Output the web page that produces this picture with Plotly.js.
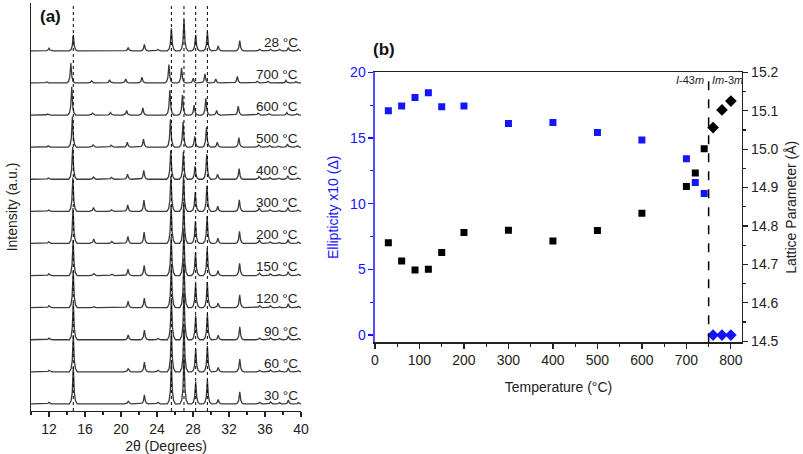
<!DOCTYPE html>
<html>
<head>
<meta charset="utf-8">
<script src="https://cdn.plot.ly/plotly-3.0.1.min.js"></script>
<style>html,body{margin:0;padding:0;background:#fff}</style>
</head>
<body>
<div id="chart" style="width:803px;height:454px"></div>
<script>
// ---------- Panel (a): XRD patterns ----------
const peakPositions = [12.0, 14.7, 17.0, 19.0, 20.8, 22.6, 24.1, 25.6, 27.0, 28.3, 29.6, 30.8, 33.2, 35.4, 36.6, 37.6, 38.6, 39.7];
// top to bottom
const patternLabels = ['28 °C', '700 °C', '600 °C', '500 °C', '400 °C', '300 °C', '200 °C', '150 °C', '120 °C', '90 °C', '60 °C', '30 °C'];
const peakShift = [0, -0.27, -0.17, -0.1, -0.07, -0.05, -0.03, -0.02, -0.01, 0, 0, 0];
const h28  = [0.08, 0.50, 0.00, 0.00, 0.10, 0.20, 0.04, 0.70, 0.97, 0.50, 0.60, 0.15, 0.32, 0.05, 0.05, 0.05, 0.10, 0.05];
const h700 = [0.03, 0.62, 0.06, 0.10, 0.12, 0.18, 0.00, 0.57, 0.47, 0.15, 0.28, 0.12, 0.20, 0.05, 0.05, 0.02, 0.08, 0.04];
const h600 = [0.03, 0.88, 0.06, 0.08, 0.14, 0.22, 0.00, 0.78, 0.62, 0.31, 0.52, 0.14, 0.28, 0.06, 0.04, 0.02, 0.08, 0.04];
const h500 = [0.04, 0.95, 0.07, 0.06, 0.15, 0.25, 0.00, 0.87, 0.78, 0.34, 0.62, 0.15, 0.30, 0.07, 0.05, 0.03, 0.10, 0.04];
const h400 = [0.04, 1.00, 0.07, 0.06, 0.16, 0.28, 0.00, 0.90, 0.85, 0.41, 0.78, 0.16, 0.33, 0.08, 0.05, 0.03, 0.11, 0.04];
const h300 = [0.04, 1.05, 0.12, 0.05, 0.20, 0.35, 0.00, 1.10, 1.10, 0.60, 0.80, 0.16, 0.36, 0.10, 0.05, 0.03, 0.12, 0.04];
const h200 = [0.05, 1.10, 0.14, 0.06, 0.22, 0.35, 0.00, 1.20, 1.30, 0.70, 0.85, 0.16, 0.38, 0.10, 0.05, 0.03, 0.12, 0.04];
const h150 = [0.05, 1.10, 0.06, 0.04, 0.20, 0.32, 0.00, 1.20, 1.40, 0.72, 0.85, 0.15, 0.38, 0.08, 0.05, 0.03, 0.12, 0.04];
const h120 = [0.06, 1.15, 0.03, 0.00, 0.20, 0.30, 0.00, 1.30, 1.50, 0.75, 0.80, 0.14, 0.40, 0.06, 0.06, 0.03, 0.12, 0.04];
const h90  = [0.05, 1.15, 0.00, 0.00, 0.15, 0.30, 0.04, 1.30, 1.50, 0.75, 0.80, 0.14, 0.40, 0.05, 0.06, 0.04, 0.12, 0.04];
const h60  = [0.05, 1.15, 0.00, 0.00, 0.10, 0.30, 0.05, 1.30, 1.50, 0.70, 0.80, 0.14, 0.40, 0.05, 0.06, 0.04, 0.12, 0.04];
const h30  = [0.05, 1.15, 0.00, 0.00, 0.08, 0.28, 0.05, 1.30, 1.50, 0.70, 0.75, 0.14, 0.38, 0.05, 0.06, 0.04, 0.12, 0.04];
const patternHeights = [h28, h700, h600, h500, h400, h300, h200, h150, h120, h90, h60, h30];
const referenceLines = [14.7, 25.6, 27.0, 28.3, 29.6];

// ---------- Panel (b): ellipticity and lattice parameter ----------
const tempSquares = [30, 60, 90, 120, 150, 200, 300, 400, 500, 600, 700, 720, 740];
const ellipticity = [17.07, 17.43, 18.09, 18.44, 17.37, 17.43, 16.11, 16.18, 15.42, 14.84, 13.42, 11.62, 10.78];
const latticeTetra = [14.756, 14.709, 14.685, 14.687, 14.731, 14.783, 14.789, 14.761, 14.788, 14.833, 14.903, 14.938, 15.001];
const tempDiamonds = [760, 780, 800];
const ellipticityCubic = [0, 0, 0];
const latticeCubic = [15.056, 15.102, 15.125];
const transitionT = 750;

// peak profile (shape of a drawn peak, relative offset in degrees / fraction of height)
const PEAK_SHAPE = [[-0.45, 0], [-0.25, 0.08], [-0.12, 0.3], [0, 1], [0.12, 0.3], [0.25, 0.08], [0.45, 0]];

const traces = [];
const annotations = [];
const n = patternLabels.length;
patternLabels.forEach((lab, k) => {
  const offset = 0.22 + (n - 1 - k);
  const xs = [10], ys = [offset];
  patternHeights[k].forEach((h, i) => {
    if (h <= 0) return;
    PEAK_SHAPE.forEach(([dx, f]) => {
      xs.push(peakPositions[i] + peakShift[k] + dx);
      ys.push(offset + f * h);
    });
  });
  xs.push(40); ys.push(offset);
  traces.push({x: xs, y: ys, xaxis: 'x', yaxis: 'y', type: 'scatter', mode: 'lines',
    line: {color: '#3a3a3a', width: 1.3}, hoverinfo: 'skip'});
  annotations.push({xref: 'x', yref: 'y', x: 39.9, y: offset + 0.27, text: lab, showarrow: false,
    xanchor: 'right', yanchor: 'middle', font: {size: 13.5, color: '#222'}});
});

const blue = '#1414ff';
traces.push({x: tempSquares, y: ellipticity, xaxis: 'x2', yaxis: 'y2', type: 'scatter', mode: 'markers',
  marker: {symbol: 'square', size: 7, color: blue}});
traces.push({x: tempDiamonds, y: ellipticityCubic, xaxis: 'x2', yaxis: 'y2', type: 'scatter', mode: 'markers',
  marker: {symbol: 'diamond', size: 9, color: blue}, cliponaxis: false});
traces.push({x: tempSquares, y: latticeTetra, xaxis: 'x2', yaxis: 'y3', type: 'scatter', mode: 'markers',
  marker: {symbol: 'square', size: 7, color: '#000'}});
traces.push({x: tempDiamonds, y: latticeCubic, xaxis: 'x2', yaxis: 'y3', type: 'scatter', mode: 'markers',
  marker: {symbol: 'diamond', size: 9, color: '#000'}});

const shapes = referenceLines.map(v => ({type: 'line', xref: 'x', yref: 'y domain', x0: v, x1: v, y0: 0, y1: 1,
  line: {color: '#000', width: 1, dash: 'dot'}, layer: 'above'}));
shapes.push({type: 'line', xref: 'x2', yref: 'y2 domain', x0: transitionT, x1: transitionT, y0: 0, y1: 1,
  line: {color: '#000', width: 1.5, dash: 'dash'}});

annotations.push({xref: 'x domain', yref: 'y domain', x: 0.026, y: 0.966, text: '<b>(a)</b>', showarrow: false,
  xanchor: 'left', yanchor: 'middle', font: {size: 17, color: '#111'}});
annotations.push({xref: 'x2 domain', yref: 'y2 domain', x: -0.01, y: 1.083, text: '<b>(b)</b>', showarrow: false,
  xanchor: 'left', yanchor: 'middle', font: {size: 17, color: '#111'}});
annotations.push({xref: 'x2', yref: 'y2 domain', x: 745, y: 0.97, text: '<i>I</i>-43<i>m</i>', showarrow: false,
  xanchor: 'right', yanchor: 'middle', font: {size: 11, color: '#222'}});
annotations.push({xref: 'x2', yref: 'y2 domain', x: 754, y: 0.97, text: '<i>Im</i>-3<i>m</i>', showarrow: false,
  xanchor: 'left', yanchor: 'middle', font: {size: 11, color: '#222'}});

const axisCommon = {showgrid: false, zeroline: false, showline: true, ticks: 'outside', ticklen: 5, tickwidth: 1.2};
const layout = {
  width: 803, height: 454,
  margin: {l: 31, r: 61, t: 3, b: 43},
  paper_bgcolor: '#fff', plot_bgcolor: '#fff',
  showlegend: false,
  font: {family: 'Liberation Sans, Arial, sans-serif', size: 14, color: '#222'},
  xaxis: Object.assign({}, axisCommon, {domain: [0, 0.3797], range: [10, 40], anchor: 'y',
    linecolor: '#222', linewidth: 1.3, tickcolor: '#222', tick0: 12, dtick: 4,
    minor: {dtick: 2, ticks: 'outside', ticklen: 3, tickcolor: '#222'},
    tickfont: {size: 14}, title: {text: '2θ (Degrees)', standoff: 6, font: {size: 14}}}),
  yaxis: {domain: [0, 1], range: [0, 12.71], anchor: 'x', showline: true, linecolor: '#222', linewidth: 1.3,
    showgrid: false, zeroline: false, ticks: '', showticklabels: false,
    title: {text: 'Intensity (a.u.)', standoff: 8, font: {size: 14}}},
  xaxis2: Object.assign({}, axisCommon, {domain: [0.4838, 1], range: [0, 825], anchor: 'y2',
    linecolor: '#222', linewidth: 1.3, tickcolor: '#222', mirror: true, dtick: 100,
    minor: {dtick: 50, ticks: 'outside', ticklen: 3, tickcolor: '#222'},
    tickfont: {size: 14}, title: {text: 'Temperature (°C)', standoff: 14, font: {size: 14}}}),
  yaxis2: Object.assign({}, axisCommon, {domain: [0.1684, 0.8301], range: [-0.55, 20], anchor: 'x2',
    linecolor: '#5050ff', linewidth: 1.5, tickcolor: blue, dtick: 5,
    minor: {dtick: 2.5, ticks: 'outside', ticklen: 3, tickcolor: blue},
    tickfont: {size: 14, color: blue}, title: {text: 'Ellipticity x10 (Δ)', standoff: 8, font: {size: 14, color: blue}}}),
  yaxis3: Object.assign({}, axisCommon, {overlaying: 'y2', side: 'right', anchor: 'x2', range: [14.497, 15.2],
    linecolor: '#222', linewidth: 1.3, tickcolor: '#222', dtick: 0.1, tickformat: '.1f',
    minor: {dtick: 0.05, ticks: 'outside', ticklen: 3, tickcolor: '#222'},
    tickfont: {size: 14}, title: {text: 'Lattice Parameter (Å)', standoff: 8, font: {size: 14}}}),
  shapes: shapes,
  annotations: annotations
};
Plotly.newPlot('chart', traces, layout, {displayModeBar: false, staticPlot: true});
</script>
</body>
</html>
